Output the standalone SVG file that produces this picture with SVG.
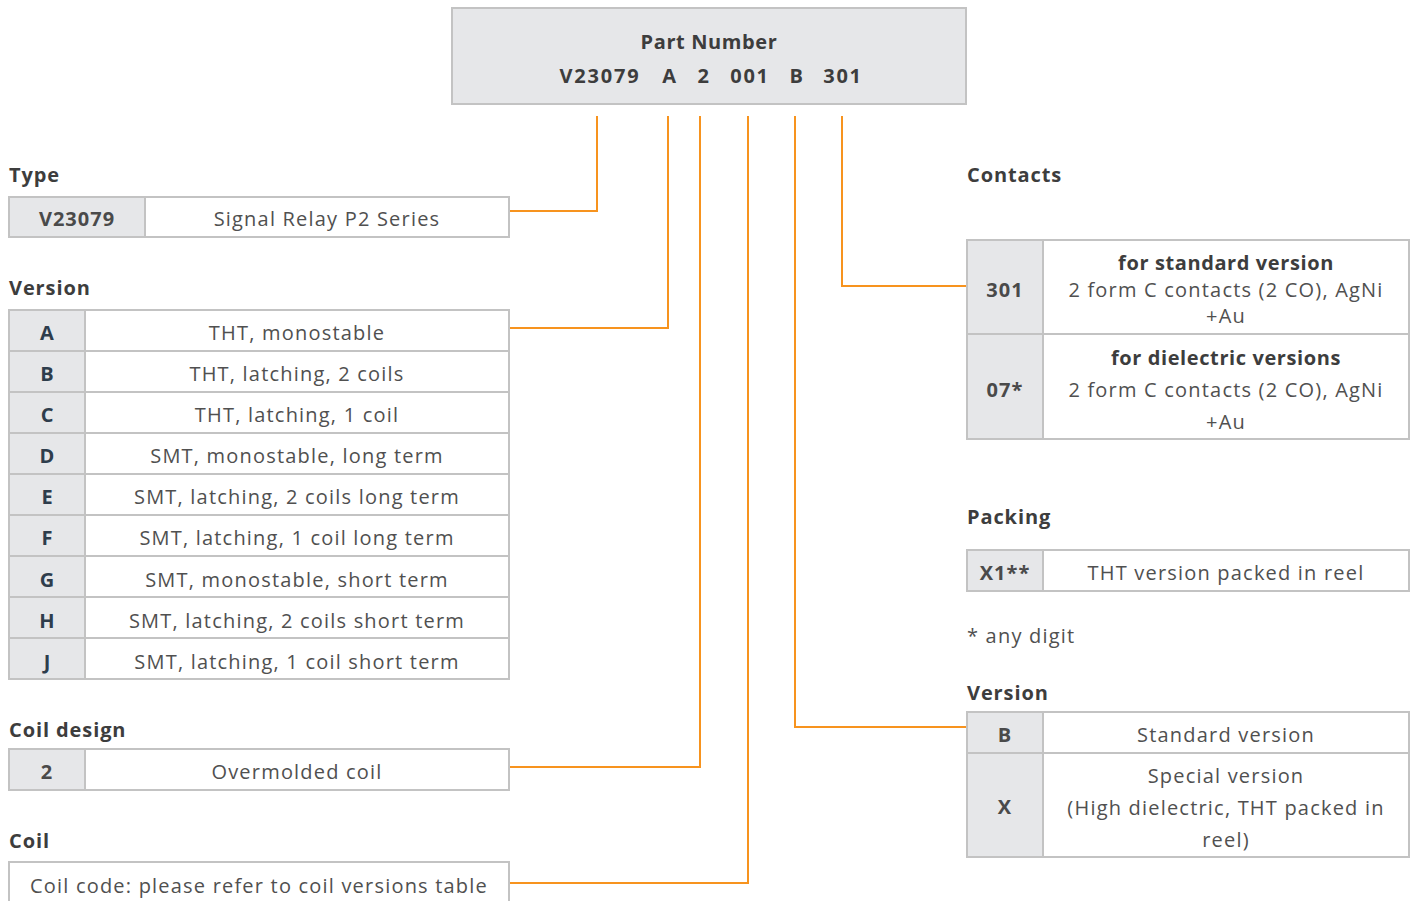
<svg xmlns="http://www.w3.org/2000/svg" width="1416" height="901" viewBox="0 0 1416 901">
<style>
text{font-family:"Open Sans","Liberation Sans",sans-serif;dominant-baseline:central}
.h{font-size:20px;font-weight:bold;fill:#3d3d3d;letter-spacing:0.9px}
.k{font-size:20px;font-weight:bold;fill:#4a4a4a;text-anchor:middle;letter-spacing:1px}
.kb{font-size:20px;font-weight:bold;fill:#2e3d4c;text-anchor:middle}
.v{font-size:20px;fill:#505050;text-anchor:middle;letter-spacing:1.2px}
.vb{font-size:20px;font-weight:bold;fill:#3d3d3d;text-anchor:middle;letter-spacing:0.6px}
.pn{font-size:20px;font-weight:bold;fill:#3d3d3d;text-anchor:middle;letter-spacing:1.8px}
.kc{fill:#e6e7e9;stroke:#c3c3c3;stroke-width:2}
.vc{fill:#ffffff;stroke:#c3c3c3;stroke-width:2}
.c{fill:none;stroke:#f7931e;stroke-width:2}
</style>
<rect width="1416" height="901" fill="#ffffff"/>
<g id="partnumber">
<rect x="452" y="8" width="514" height="96" class="kc"/>
<text x="709" y="41" class="vb">Part Number</text>
<text x="600" y="75" class="pn">V23079</text>
<text x="670" y="75" class="pn">A</text>
<text x="704" y="75" class="pn">2</text>
<text x="750" y="75" class="pn">001</text>
<text x="797" y="75" class="pn">B</text>
<text x="843" y="75" class="pn">301</text>
</g>
<g id="connectors">
<polyline class="c" points="597,116 597,211 510,211"/>
<polyline class="c" points="668,116 668,328 510,328"/>
<polyline class="c" points="700,116 700,767 510,767"/>
<polyline class="c" points="748,116 748,883 510,883"/>
<polyline class="c" points="795,116 795,727 967,727"/>
<polyline class="c" points="842,116 842,286 967,286"/>
</g>
<g id="type">
<text x="9" y="174" class="h">Type</text>
<rect x="9" y="197" width="136" height="40" class="kc"/>
<rect x="145" y="197" width="364" height="40" class="vc"/>
<text x="77" y="218" class="k">V23079</text>
<text x="327" y="218" class="v">Signal Relay P2 Series</text>
</g>
<g id="version-left">
<text x="9" y="287" class="h">Version</text>
<rect x="9" y="310" width="76" height="41" class="kc"/><rect x="85" y="310" width="424" height="41" class="vc"/>
<rect x="9" y="351" width="76" height="41" class="kc"/><rect x="85" y="351" width="424" height="41" class="vc"/>
<rect x="9" y="392" width="76" height="41" class="kc"/><rect x="85" y="392" width="424" height="41" class="vc"/>
<rect x="9" y="433" width="76" height="41" class="kc"/><rect x="85" y="433" width="424" height="41" class="vc"/>
<rect x="9" y="474" width="76" height="41" class="kc"/><rect x="85" y="474" width="424" height="41" class="vc"/>
<rect x="9" y="515" width="76" height="41" class="kc"/><rect x="85" y="515" width="424" height="41" class="vc"/>
<rect x="9" y="556" width="76" height="41" class="kc"/><rect x="85" y="556" width="424" height="41" class="vc"/>
<rect x="9" y="597" width="76" height="41" class="kc"/><rect x="85" y="597" width="424" height="41" class="vc"/>
<rect x="9" y="638" width="76" height="41" class="kc"/><rect x="85" y="638" width="424" height="41" class="vc"/>
<text x="47" y="332" class="kb">A</text><text x="297" y="332" class="v">THT, monostable</text>
<text x="47" y="373" class="kb">B</text><text x="297" y="373" class="v">THT, latching, 2 coils</text>
<text x="47" y="414" class="kb">C</text><text x="297" y="414" class="v">THT, latching, 1 coil</text>
<text x="47" y="455" class="kb">D</text><text x="297" y="455" class="v">SMT, monostable, long term</text>
<text x="47" y="496" class="kb">E</text><text x="297" y="496" class="v">SMT, latching, 2 coils long term</text>
<text x="47" y="537" class="kb">F</text><text x="297" y="537" class="v">SMT, latching, 1 coil long term</text>
<text x="47" y="579" class="kb">G</text><text x="297" y="579" class="v">SMT, monostable, short term</text>
<text x="47" y="620" class="kb">H</text><text x="297" y="620" class="v">SMT, latching, 2 coils short term</text>
<text x="47" y="661" class="kb">J</text><text x="297" y="661" class="v">SMT, latching, 1 coil short term</text>
</g>
<g id="coil-design">
<text x="9" y="729" class="h">Coil design</text>
<rect x="9" y="749" width="76" height="41" class="kc"/><rect x="85" y="749" width="424" height="41" class="vc"/>
<text x="47" y="771" class="k">2</text><text x="297" y="771" class="v">Overmolded coil</text>
</g>
<g id="coil">
<text x="9" y="840" class="h">Coil</text>
<rect x="9" y="862" width="500" height="50" class="vc"/>
<text x="259" y="885" class="v">Coil code: please refer to coil versions table</text>
</g>
<g id="contacts">
<text x="967" y="174" class="h">Contacts</text>
<rect x="967" y="240" width="76" height="94" class="kc"/><rect x="1043" y="240" width="366" height="94" class="vc"/>
<rect x="967" y="334" width="76" height="105" class="kc"/><rect x="1043" y="334" width="366" height="105" class="vc"/>
<text x="1005" y="289" class="k">301</text>
<text x="1226" y="262" class="vb">for standard version</text>
<text x="1226" y="289" class="v">2 form C contacts (2 CO), AgNi</text>
<text x="1226" y="315" class="v">+Au</text>
<text x="1005" y="389" class="k">07*</text>
<text x="1226" y="357" class="vb">for dielectric versions</text>
<text x="1226" y="389" class="v">2 form C contacts (2 CO), AgNi</text>
<text x="1226" y="421" class="v">+Au</text>
</g>
<g id="packing">
<text x="967" y="516" class="h">Packing</text>
<rect x="967" y="550" width="76" height="41" class="kc"/><rect x="1043" y="550" width="366" height="41" class="vc"/>
<text x="1005" y="572" class="k">X1**</text>
<text x="1226" y="572" class="v">THT version packed in reel</text>
<text x="967" y="635" class="v" style="text-anchor:start">* any digit</text>
</g>
<g id="version-right">
<text x="967" y="692" class="h">Version</text>
<rect x="967" y="712" width="76" height="41" class="kc"/><rect x="1043" y="712" width="366" height="41" class="vc"/>
<rect x="967" y="753" width="76" height="104" class="kc"/><rect x="1043" y="753" width="366" height="104" class="vc"/>
<text x="1005" y="734" class="k">B</text><text x="1226" y="734" class="v">Standard version</text>
<text x="1005" y="806" class="k">X</text>
<text x="1226" y="775" class="v">Special version</text>
<text x="1226" y="807" class="v">(High dielectric, THT packed in</text>
<text x="1226" y="839" class="v">reel)</text>
</g>
</svg>
